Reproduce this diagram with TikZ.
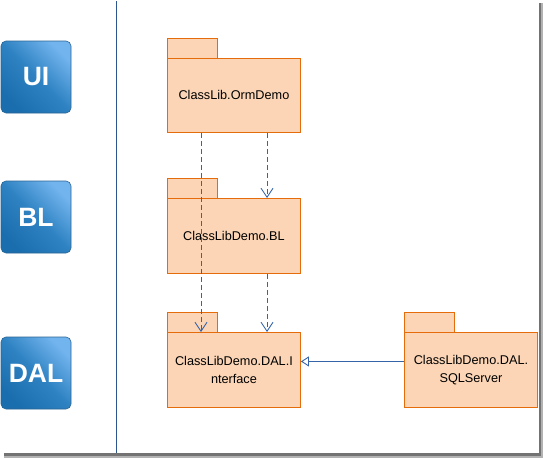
\documentclass[tikz,border=0pt]{standalone}
\usepackage{fontspec}
\setmainfont{Liberation Sans}
\usetikzlibrary{arrows.meta}
\definecolor{pkgfill}{HTML}{FBD5B5}
\definecolor{pkgdraw}{HTML}{E46C0A}
\definecolor{linkblue}{HTML}{3565A8}
\definecolor{layerlight}{HTML}{72B4EE}
\definecolor{layermid}{HTML}{2E82C2}
\definecolor{layerdark}{HTML}{1A6EAD}
\definecolor{layeredge}{HTML}{2A6595}
\tikzset{
  pkgbody/.style={draw=pkgdraw, fill=pkgfill, line width=0.9pt, rectangle, anchor=north west,
    inner sep=0pt, align=center, font=\fontsize{12.7}{17.3}\selectfont},
  pkgtab/.style={draw=pkgdraw, fill=pkgfill, line width=0.9pt},
  layerbox/.style={rectangle, rounded corners=5pt, draw=layeredge, line width=0.6pt,
    minimum width=70pt, minimum height=72pt, text=white,
    font=\fontsize{26.5}{30}\selectfont\bfseries,
    top color=layerlight, bottom color=layerdark, middle color=layermid, shading angle=-45},
  dep/.style={draw=linkblue, line width=1pt, dash pattern=on 5pt off 3pt,
    -{Straight Barb[length=9pt,width=12pt,line width=0.9pt]}},
  gen/.style={draw=linkblue, line width=1pt,
    -{Triangle[open,length=8pt,width=10pt,line width=0.9pt,fill=white]}},
  sep/.style={draw=linkblue!85!black, line width=1pt}
}
\begin{document}
\begin{tikzpicture}[x=1pt,y=-1pt]
\useasboundingbox (0,0) rectangle (543,458);
% page shadow
\fill[black!55] (4,453) rectangle (543,458);
\fill[black!55] (539,3) rectangle (543,458);
\fill[black!30] (4,456) rectangle (543,458);
\fill[black!30] (541,3) rectangle (543,458);
\fill[white] (0,0) rectangle (539,453);
% separator
\coordinate (vtop) at (116,1);
\coordinate (vbot) at (116,453);
\draw[sep] (vtop) -- (vbot);
% layer labels
\node[layerbox] (ui) at (36,77) {UI};
\node[layerbox] (bl) at (36,217) {BL};
\node[layerbox] (dal) at (36,373) {DAL};
% packages
\draw[pkgtab] (167,38) rectangle (217,58);
\node[pkgbody, minimum width=133pt, minimum height=74pt] (p1) at (167,58) {ClassLib.OrmDemo};
\draw[pkgtab] (167,178) rectangle (217,198);
\node[pkgbody, minimum width=133pt, minimum height=75pt] (p2) at (167,198) {ClassLibDemo.BL};
\draw[pkgtab] (167,312) rectangle (217,332);
\node[pkgbody, minimum width=133pt, minimum height=75pt] (p3) at (167,332) {ClassLibDemo.DAL.I\\nterface};
\draw[pkgtab] (404,312) rectangle (454,332);
\node[pkgbody, minimum width=133pt, minimum height=75pt] (p4) at (404,332) {ClassLibDemo.DAL.\\SQLServer};
% connectors
\draw[dep] ([xshift=34pt]p1.south west) -- ([xshift=34pt]p3.north west);
\draw[dep] ([xshift=100pt]p1.south west) -- ([xshift=100pt]p2.north west);
\draw[dep] ([xshift=100pt]p2.south west) -- ([xshift=100pt]p3.north west);
\draw[gen] ([yshift=8.5pt]p4.west) -- ([yshift=8.5pt]p3.east);
\end{tikzpicture}
\end{document}
